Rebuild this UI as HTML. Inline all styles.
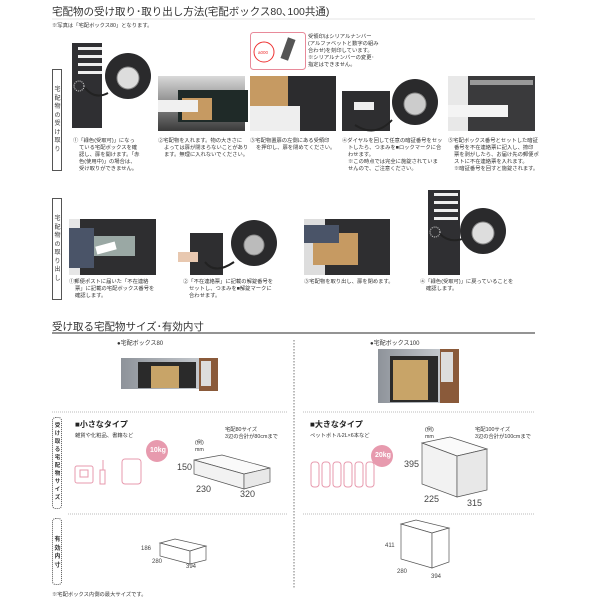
<!DOCTYPE html>
<html><head><meta charset="utf-8"><style>
body{margin:0;background:#fff;width:600px;height:600px;overflow:hidden;position:relative}
svg{display:block;font-family:"Liberation Sans","Noto Sans CJK JP",sans-serif}
.c{font-size:5.3px;fill:#333}
.t{font-size:10.5px;fill:#333}
.d{font-size:9px;fill:#444}
.v{position:absolute;font-family:"Liberation Sans","Noto Sans CJK JP",sans-serif;font-size:6px;line-height:8.5px;width:9px;color:#333;text-align:center}
</style></head><body>
<svg width="600" height="600" viewBox="0 0 600 600" xmlns="http://www.w3.org/2000/svg">
<defs>
<linearGradient id="ph" x1="0" y1="0" x2="0" y2="1"><stop offset="0" stop-color="#d9d9d9"/><stop offset="1" stop-color="#3a3a3a"/></linearGradient>
<linearGradient id="mt" x1="0" y1="0" x2="1" y2="0"><stop offset="0" stop-color="#8e939a"/><stop offset="1" stop-color="#c3c7cc"/></linearGradient>
</defs>
<text x="52" y="15" class="t">宅配物の受け取り･取り出し方法(宅配ボックス80､100共通)</text>
<line x1="52" y1="19" x2="535" y2="19" stroke="#e5e5e5" stroke-width="1"/>
<text x="52" y="27" class="c">※写真は「宅配ボックス80」となります。</text>
<rect x="52.5" y="69.5" width="9" height="101" fill="#fff" stroke="#555"/>
<rect x="72" y="43" width="30" height="85" fill="#2f2f32"/>
<rect x="78" y="47" width="24" height="3" fill="#eee"/><rect x="78" y="55" width="24" height="3" fill="#eee"/><rect x="78" y="63" width="24" height="3" fill="#eee"/><rect x="78" y="71" width="24" height="3" fill="#eee"/>
<circle cx="79" cy="86" r="5" fill="none" stroke="#ddd" stroke-dasharray="1,1"/>
<path d="M85 88 Q95 100 108 93" fill="none" stroke="#222" stroke-width="2"/>
<circle cx="128" cy="76" r="23" fill="#2a2a2c"/><circle cx="128" cy="78" r="11" fill="#ddd" stroke="#888"/>
<rect x="250.5" y="32.5" width="55" height="37" rx="3" fill="#fff" stroke="#e88a9a"/>
<circle cx="264" cy="52" r="10" fill="#fff" stroke="#e33"/><text x="258" y="54" style="font-size:4.5px;fill:#e33">a000</text>
<rect x="284" y="38" width="8" height="22" fill="#555" transform="rotate(20 288 49)"/>
<text x="308" y="38" class="c">受領印はシリアルナンバー</text>
<text x="308" y="45" class="c">(アルファベットと数字の組み</text>
<text x="308" y="52" class="c">合わせ)を刻印しています。</text>
<text x="308" y="59" class="c">※シリアルナンバーの変更･</text>
<text x="308" y="66" class="c">指定はできません。</text>
<rect x="158" y="76" width="87" height="55" fill="url(#ph)"/><rect x="178" y="90" width="70" height="32" fill="#1f2a28"/><rect x="182" y="98" width="30" height="22" fill="#c69a62"/><rect x="158" y="100" width="40" height="12" fill="#f0f0f0"/>
<rect x="250" y="76" width="86" height="55" fill="#2c2c2e"/><rect x="250" y="76" width="38" height="30" fill="#c69a62"/><rect x="250" y="106" width="50" height="25" fill="#eee"/>
<rect x="342" y="91" width="48" height="40" fill="#2e2e30"/><path d="M355 125 Q375 138 392 120" fill="none" stroke="#222" stroke-width="2"/><rect x="354" y="102" width="20" height="8" fill="#eee"/>
<circle cx="415" cy="102" r="23" fill="#2a2a2c"/><circle cx="415" cy="104" r="11" fill="#ccc" stroke="#888"/>
<rect x="448" y="76" width="87" height="55" fill="#e8e8e8"/><rect x="468" y="76" width="67" height="55" fill="#3a3a3c"/><rect x="470" y="80" width="63" height="5" fill="#999"/><rect x="448" y="105" width="60" height="12" fill="#f4f4f4"/>
<g class="c">
<text x="73" y="142">①「緑色(受取可)」になっ</text><text x="79" y="149">ている宅配ボックスを確</text><text x="79" y="156">認し、扉を開けます。「赤</text><text x="79" y="163">色(使用中)」の場合は、</text><text x="79" y="170">受け取りができません。</text>
<text x="158" y="142">②宅配物を入れます。物の大きさに</text><text x="164" y="149">よっては扉が閉まらないことがあり</text><text x="164" y="156">ます。無理に入れないでください。</text>
<text x="250" y="142">③宅配物置扉の左側にある受領印</text><text x="256" y="149">を押印し、扉を閉めてください。</text>
<text x="342" y="142">④ダイヤルを回して任意の暗証番号をセッ</text><text x="348" y="149">トしたら、つまみを■ロックマークに合</text><text x="348" y="156">わせます。</text><text x="348" y="163">※この時点では完全に施錠されていま</text><text x="348" y="170">せんので、ご注意ください。</text>
<text x="448" y="142">⑤宅配ボックス番号とセットした暗証</text><text x="454" y="149">番号を不在連絡票に記入し、捺印</text><text x="454" y="156">票を剥がしたら、お届け先の郵便ポ</text><text x="454" y="163">ストに不在連絡票を入れます。</text><text x="454" y="170">※暗証番号を回すと施錠されます。</text>
</g>
<rect x="52.5" y="198.5" width="9" height="101" fill="#fff" stroke="#555"/>
<rect x="69" y="219" width="87" height="56" fill="#e6e6e6"/><rect x="80" y="219" width="76" height="56" fill="#2e2e30"/><rect x="85" y="236" width="50" height="20" fill="#9aa8a4"/><rect x="69" y="228" width="25" height="40" fill="#4a5468"/><rect x="96" y="244" width="20" height="8" fill="#fff" transform="rotate(-15 106 248)"/>
<rect x="190" y="233" width="33" height="42" fill="#2e2e30"/><rect x="178" y="252" width="20" height="10" fill="#e8c8b0"/>
<path d="M205 262 Q215 275 234 262" fill="none" stroke="#222" stroke-width="2"/>
<circle cx="254" cy="243" r="23" fill="#2a2a2c"/><circle cx="254" cy="245" r="10" fill="#bbb" stroke="#888"/>
<rect x="304" y="219" width="86" height="56" fill="#ddd"/><rect x="325" y="219" width="65" height="56" fill="#2e2e30"/><rect x="313" y="233" width="45" height="32" fill="#c69a62"/><rect x="304" y="225" width="35" height="18" fill="#4a5468"/>
<rect x="428" y="190" width="32" height="85" fill="#2f2f32"/>
<rect x="434" y="193" width="24" height="3" fill="#eee"/><rect x="434" y="201" width="24" height="3" fill="#eee"/><rect x="434" y="209" width="24" height="3" fill="#eee"/><rect x="434" y="217" width="24" height="3" fill="#eee"/>
<circle cx="435" cy="232" r="5" fill="none" stroke="#ddd" stroke-dasharray="1,1"/>
<path d="M440 234 Q450 244 465 238" fill="none" stroke="#222" stroke-width="2"/>
<circle cx="483" cy="231" r="23" fill="#2a2a2c"/><circle cx="483" cy="233" r="11" fill="#ddd" stroke="#888"/>
<g class="c">
<text x="69" y="283">①郵便ポストに届いた「不在連絡</text><text x="75" y="290">票」に記載の宅配ボックス番号を</text><text x="75" y="297">確認します。</text>
<text x="183" y="283">②「不在連絡票」に記載の解錠番号を</text><text x="189" y="290">セットし、つまみを■解錠マークに</text><text x="189" y="297">合わせます。</text>
<text x="304" y="283">③宅配物を取り出し、扉を閉めます。</text>
<text x="420" y="283">④「緑色(受取可)」に戻っていることを</text><text x="426" y="290">確認します。</text>
</g>
<text x="52" y="330" class="t">受け取る宅配物サイズ･有効内寸</text>
<line x1="52" y1="333" x2="535" y2="333" stroke="#555" stroke-width="1.3"/>
<line x1="294" y1="340" x2="294" y2="588" stroke="#777" stroke-dasharray="1.5,1.5"/>
<text x="117" y="345" class="c" style="font-size:6px">●宅配ボックス80</text>
<text x="370" y="345" class="c" style="font-size:6px">●宅配ボックス100</text>
<rect x="121" y="358" width="78" height="31" fill="url(#mt)"/><rect x="138" y="362" width="58" height="26" fill="#2a2a2a"/><rect x="151" y="366" width="28" height="22" fill="#c8a468"/><rect x="199" y="358" width="19" height="33" fill="#8a5a3a"/><rect x="201" y="361" width="10" height="25" fill="#ddd"/>
<rect x="378" y="349" width="62" height="54" fill="url(#mt)"/><rect x="390" y="356" width="48" height="46" fill="#2a2a2a"/><rect x="393" y="360" width="35" height="40" fill="#c8a468"/><rect x="440" y="349" width="19" height="54" fill="#8a5a3a"/><rect x="441" y="352" width="12" height="30" fill="#ddd"/>
<line x1="52" y1="412" x2="287" y2="412" stroke="#bbb" stroke-dasharray="1,1"/>
<line x1="303" y1="412" x2="535" y2="412" stroke="#bbb" stroke-dasharray="1,1"/>
<rect x="52.5" y="417.5" width="9" height="91" rx="3" fill="#fff" stroke="#555" stroke-dasharray="1,1"/>
<text x="75" y="427" style="font-size:8px;font-weight:bold;fill:#222">■小さなタイプ</text>
<text x="75" y="437" class="c">雑貨や化粧品、書籍など</text>
<text x="310" y="427" style="font-size:8px;font-weight:bold;fill:#222">■大きなタイプ</text>
<text x="310" y="437" class="c">ペットボトル2L×6本など</text>
<g fill="none" stroke="#e79aae" stroke-width="1">
<rect x="75" y="466" width="18" height="17" rx="2"/><rect x="80" y="470" width="8" height="7"/>
<rect x="100" y="470" width="5" height="14"/><path d="M103 470 V460"/>
<rect x="122" y="459" width="19" height="25" rx="3"/>
<g><rect x="311" y="462" width="8" height="25" rx="3"/><rect x="322" y="462" width="8" height="25" rx="3"/><rect x="333" y="462" width="8" height="25" rx="3"/><rect x="344" y="462" width="8" height="25" rx="3"/><rect x="355" y="462" width="8" height="25" rx="3"/><rect x="366" y="462" width="8" height="25" rx="3"/></g>
</g>
<circle cx="157" cy="451" r="11" fill="#e79aae"/><text x="150" y="452" style="font-size:7px;fill:#fff;font-weight:bold">10kg</text>
<circle cx="382" cy="456" r="11" fill="#e79aae"/><text x="375" y="457" style="font-size:7px;fill:#fff;font-weight:bold">20kg</text>
<text x="195" y="444" class="c">(例)</text><text x="195" y="451" class="c">mm</text>
<text x="225" y="431" class="c">宅配80サイズ</text><text x="225" y="438" class="c">3辺の合計が80cmまで</text>
<text x="425" y="431" class="c">(例)</text><text x="425" y="438" class="c">mm</text>
<text x="475" y="431" class="c">宅配100サイズ</text><text x="475" y="438" class="c">3辺の合計が100cmまで</text>
<g fill="#f2f2f2" stroke="#555" stroke-width="0.7">
<path d="M194 460 L222 455 L270 468 L244 474 Z" fill="#fafafa"/><path d="M194 460 L244 474 L244 489 L194 474 Z"/><path d="M244 474 L270 468 L270 482 L244 489 Z" fill="#e8e8e8"/>
<path d="M422 443 L450 437 L487 449 L457 456 Z" fill="#fafafa"/><path d="M422 443 L457 456 L457 497 L422 484 Z"/><path d="M457 456 L487 449 L487 490 L457 497 Z" fill="#e8e8e8"/>
<path d="M160 543 L175 539 L206 546 L190 551 Z" fill="#fff"/><path d="M160 543 L190 551 L190 564 L160 556 Z" fill="#fff"/><path d="M190 551 L206 546 L206 560 L190 564 Z" fill="#fff"/>
<path d="M401 524 L416 520 L449 528 L432 533 Z" fill="#fff"/><path d="M401 524 L432 533 L432 568 L401 559 Z" fill="#fff"/><path d="M432 533 L449 528 L449 562 L432 568 Z" fill="#fff"/>
</g>
<g class="d">
<text x="177" y="470">150</text><text x="196" y="492">230</text><text x="240" y="497">320</text>
<text x="404" y="467">395</text><text x="424" y="502">225</text><text x="467" y="506">315</text>
<text x="141" y="550" style="font-size:6px">186</text><text x="152" y="563" style="font-size:6px">280</text><text x="186" y="568" style="font-size:6px">394</text>
<text x="385" y="547" style="font-size:6px">411</text><text x="397" y="573" style="font-size:6px">280</text><text x="431" y="578" style="font-size:6px">394</text>
</g>
<line x1="68" y1="514" x2="287" y2="514" stroke="#bbb" stroke-dasharray="1,1"/>
<line x1="303" y1="514" x2="535" y2="514" stroke="#bbb" stroke-dasharray="1,1"/>
<rect x="52.5" y="518.5" width="9" height="66" rx="3" fill="#fff" stroke="#555" stroke-dasharray="1,1"/>
<text x="52" y="596" class="c">※宅配ボックス内側の最大サイズです。</text>
</svg>
<div class="v" style="left:53px;top:86px">宅<br>配<br>物<br>の<br>受<br>け<br>取<br>り</div>
<div class="v" style="left:53px;top:215px">宅<br>配<br>物<br>の<br>取<br>り<br>出<br>し</div>
<div class="v" style="left:53px;top:422px;font-weight:bold;font-size:5.5px;line-height:8px">受<br>け<br>取<br>る<br>宅<br>配<br>物<br>サ<br>イ<br>ズ</div>
<div class="v" style="left:53px;top:536px;font-weight:bold">有<br>効<br>内<br>寸</div>
</body></html>
